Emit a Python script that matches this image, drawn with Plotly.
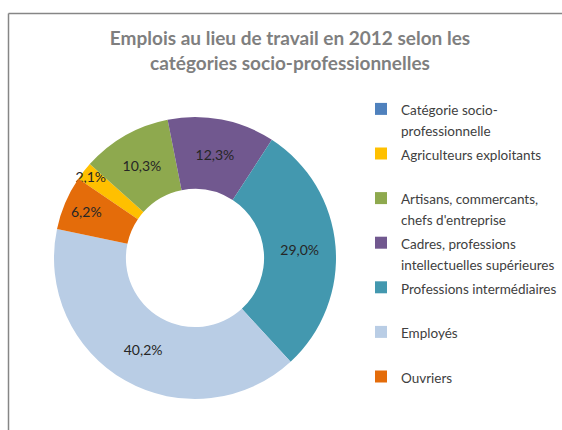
import plotly.graph_objects as go

labels = [
    "Catégorie socio-<br>professionnelle",
    "Agriculteurs exploitants",
    "Artisans, commercants,<br>chefs d'entreprise",
    "Cadres, professions<br>intellectuelles supérieures",
    "Professions intermédiaires",
    "Employés",
    "Ouvriers",
]
values = [0, 2.1, 10.3, 12.3, 29.0, 40.2, 6.2]
colors = ["#4F81BD", "#FFC000", "#8EA94E", "#71588F", "#4398AF", "#B9CDE5", "#E46C0A"]

text = ["" if v == 0 else f"{v:.1f}%".replace(".", ",") for v in values]
# pad every legend entry to two lines so the spacing matches
legend_labels = [
    f"<span style='font-size:13.5px'>{l}{'' if '<br>' in l else '<br> '}</span>"
    for l in labels
]

fig = go.Figure()
fig.add_trace(go.Pie(
    labels=legend_labels,
    values=values,
    text=text,
    textinfo="text",
    textposition="inside",
    insidetextorientation="horizontal",
    textfont=dict(family="Lato", size=14, color="#262626"),
    marker=dict(colors=colors, line=dict(width=0)),
    hole=0.49,
    sort=False,
    direction="clockwise",
    rotation=304.2,
    domain=dict(x=[54 / 562, 336 / 562], y=[1 - 399 / 430, 1 - 117 / 430]),
    hoverinfo="skip",
))

border = dict(type="line", xref="paper", yref="paper", line=dict(color="#868686", width=1.5))

fig.update_layout(
    width=562, height=430,
    margin=dict(l=0, r=0, t=0, b=0),
    paper_bgcolor="white",
    font=dict(family="Lato", color="#404040"),
    title=dict(
        text="<b>Emplois au lieu de travail en 2012 selon les<br>catégories socio-professionnelles</b>",
        x=290 / 562, xanchor="center",
        y=1 - 45 / 430, yanchor="top",
        font=dict(family="Lato", size=19, color="#7F7F7F"),
    ),
    uniformtext=dict(mode="show", minsize=14),
    legend=dict(
        x=1, xanchor="right",
        y=1 - 92 / 430, yanchor="top",
        valign="top",
        font=dict(family="Lato", size=16, color="#404040"),
        bgcolor="rgba(0,0,0,0)",
    ),
    shapes=[
        dict(border, x0=8.5 / 562, x1=1, y0=1 - 13.5 / 430, y1=1 - 13.5 / 430),
        dict(border, x0=8.5 / 562, x1=8.5 / 562, y0=0, y1=1 - 13.5 / 430),
    ],
)

# the page's default body margin would push the chart 8px in
fig.write_html(
    "out.html",
    config={"displayModeBar": False},
    post_script="document.body.style.margin='0';document.body.style.overflow='hidden';",
)
